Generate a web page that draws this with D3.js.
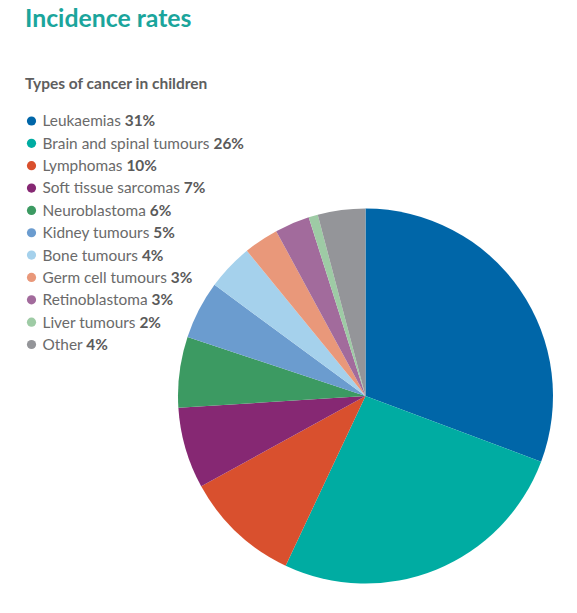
<!DOCTYPE html>
<html>
<head>
<meta charset="utf-8">
<script src="https://cdn.jsdelivr.net/npm/d3@7"></script>
<style>
  html, body { margin: 0; padding: 0; background: #ffffff; }
  svg { display: block; }
</style>
</head>
<body>
<svg id="chart" width="577" height="613"></svg>
<script>
// ---- data ----
const categories = [
  "Leukaemias", "Brain and spinal tumours", "Lymphomas", "Soft tissue sarcomas",
  "Neuroblastoma", "Kidney tumours", "Bone tumours", "Germ cell tumours",
  "Retinoblastoma", "Liver tumours", "Other"
];
const percentLabels = ["31%", "26%", "10%", "7%", "6%", "5%", "4%", "3%", "3%", "2%", "4%"];
// slice sizes as drawn in the picture (percent of circle)
const sliceValues = [30.7, 26.3, 10.0, 7.0, 6.1, 5.0, 4.0, 3.0, 3.0, 0.8, 4.1];
const colors = [
  "#0066a8", "#00aca2", "#d9502e", "#862873", "#3c9a62", "#6b9ccf",
  "#a5d1ec", "#e9987a", "#a26b9c", "#9ecba5", "#949599"
];
const titleText = "Incidence rates";
const subtitleText = "Types of cancer in children";

// ---- drawing ----
const svg = d3.select("#chart");
const font = "Lato, 'Open Sans', sans-serif";

svg.append("text")
  .attr("x", 25).attr("y", 27)
  .attr("font-family", font).attr("font-weight", 700)
  .attr("font-size", 24.8).attr("fill", "#1ba59c")
  .text(titleText);

svg.append("text")
  .attr("x", 25).attr("y", 88.5)
  .attr("font-family", font).attr("font-weight", 700)
  .attr("font-size", 15.5).attr("fill", "#5e5e5e")
  .text(subtitleText);

// legend
const rowY = d3.scalePoint().domain(d3.range(categories.length)).range([121, 344.5]);
const legend = svg.append("g");
const rows = legend.selectAll("g.row").data(categories).join("g")
  .attr("class", "row")
  .attr("transform", (d, i) => `translate(0,${rowY(i)})`);
rows.append("circle").attr("cx", 31.5).attr("cy", 0).attr("r", 4.6)
  .attr("fill", (d, i) => colors[i]);
const txt = rows.append("text")
  .attr("x", 42.5).attr("y", 5.4)
  .attr("font-family", font).attr("font-size", 15.4).attr("fill", "#6a6a6a");
txt.append("tspan").text(d => d + " ");
txt.append("tspan").attr("font-weight", 700).attr("fill", "#5a5a5a")
  .text((d, i) => percentLabels[i]);

// pie
const cx = 365.5, cy = 396, r = 187.5;
const pie = d3.pie().sort(null).value(d => d.v);
const arc = d3.arc().innerRadius(0).outerRadius(r);
const pieData = pie(sliceValues.map((v, i) => ({ v, i })));
svg.append("g").attr("transform", `translate(${cx},${cy})`)
  .selectAll("path").data(pieData).join("path")
  .attr("d", arc)
  .attr("fill", d => colors[d.data.i]);
</script>
</body>
</html>
